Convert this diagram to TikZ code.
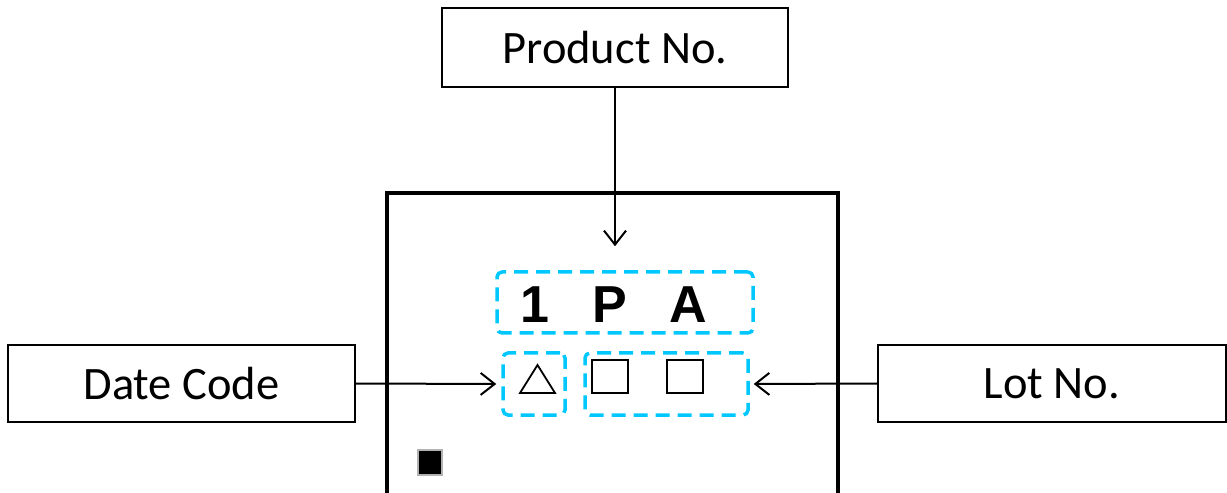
\documentclass[tikz,border=0pt]{standalone}
\usepackage{fontspec}
\setmainfont{Carlito}
\newfontfamily\arialb{Liberation Sans}
\usetikzlibrary{arrows.meta}
\definecolor{dashcyan}{RGB}{0,200,255}
\begin{document}
\begin{tikzpicture}[x=1bp,y=-1bp,
  labelbox/.style={draw=black, line width=2bp, fill=white, inner sep=0pt,
    font=\fontsize{46.5bp}{50bp}\selectfont},
  zonebox/.style={draw=dashcyan, line width=3.5bp, dash pattern=on 14bp off 8bp,
    rounded corners=5bp, inner sep=0pt},
  conn/.style={draw=black, line width=2bp, -{Straight Barb[length=14bp,width=22bp,line width=2bp]}},
  glyph/.style={font=\arialb\bfseries\fontsize{52bp}{56bp}\selectfont, inner sep=0pt, anchor=base}
]
\useasboundingbox (0,0) rectangle (1227,493);
\clip (0,0) rectangle (1227,493);
% main package outline
\draw[line width=4bp] (387,500) -- (387,193) -- (838,193) -- (838,500);
% label boxes
\node[labelbox, minimum width=346bp, minimum height=79bp] (prod) at (615,47.5) {Product No.};
\node[labelbox, minimum width=347bp, minimum height=77bp] (date) at (181.5,383.5) {Date Code};
\node[labelbox, minimum width=348bp, minimum height=77bp] (lot) at (1052,383.5) {Lot No.};
% dashed zones
\node[zonebox, minimum width=256bp, minimum height=61bp] (pa) at (625,302.5) {};
\node[zonebox, minimum width=62bp, minimum height=62bp] (tri) at (534,384) {};
\node[zonebox, minimum width=163bp, minimum height=62bp] (lotz) at (666.5,384) {};
% marking text
\node[glyph] (m1) at (535,323) {1};
\node[glyph] (m2) at (610,323) {P};
\node[glyph] (m3) at (688,323) {A};
% symbols
\draw[line width=1.8bp, line join=miter] (520,393) -- (555,393) -- (537.5,365) -- cycle;
\draw[line width=2bp] (592,360) rectangle (628,393);
\draw[line width=2bp] (667,360) rectangle (703,393);
% pin-1 mark
\fill[black] (419,451) rectangle (441,474);
\draw[gray!60, line width=2bp] (418,450) rectangle (442,475);
% connectors
\draw[conn, shorten >=24bp] (prod.south) -- (prod.south |- pa.north);
\draw[conn] (date.east) -- ([xshift=-5bp]tri.west);
\draw[conn] (lot.west) -- ([xshift=4bp]lotz.east);
\end{tikzpicture}
\end{document}
